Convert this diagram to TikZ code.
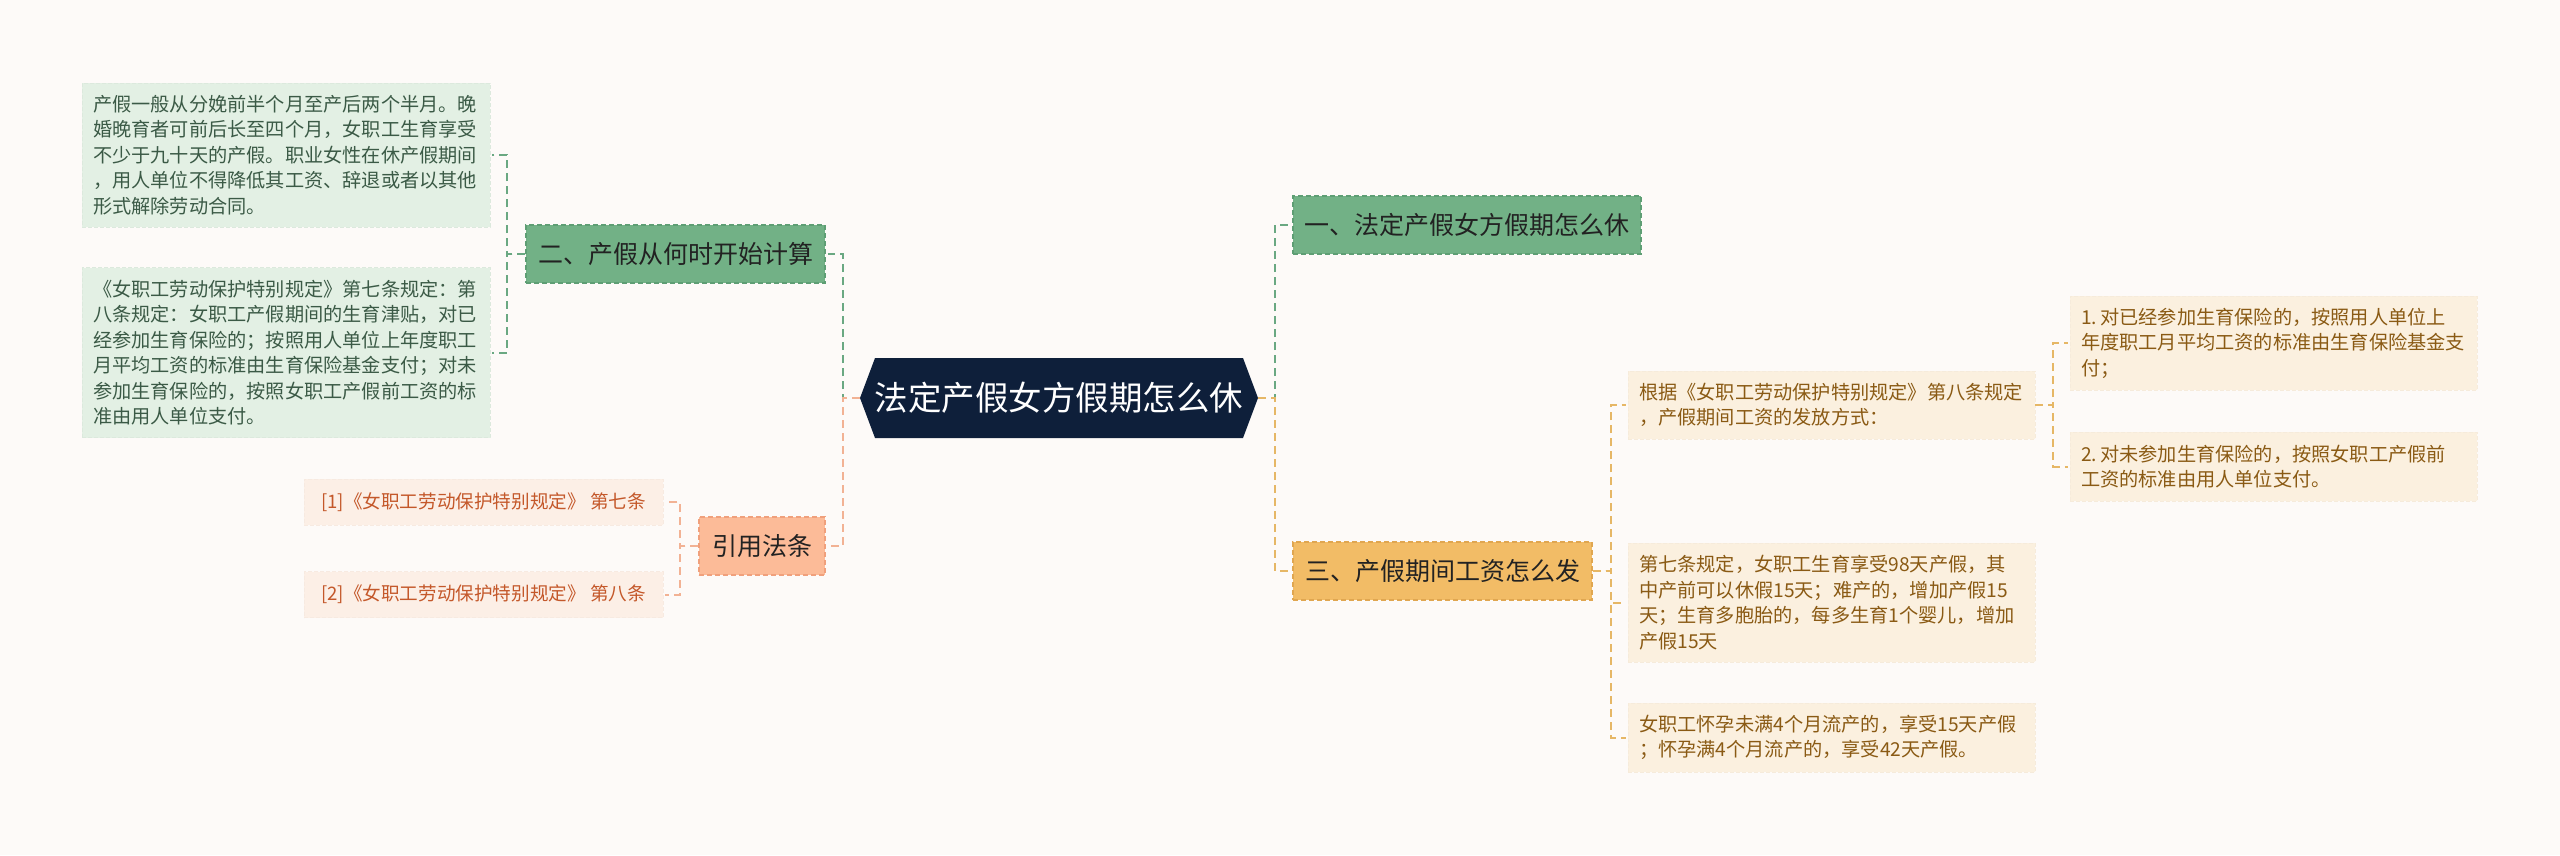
\documentclass[tikz,border=0pt]{standalone}
\usepackage{fontspec}
\setmainfont{Noto Sans CJK SC}
\definecolor{bg}{HTML}{FDFAF8}
\definecolor{navy}{HTML}{0E1F3A}
\definecolor{gfill}{HTML}{72B186}
\definecolor{gline}{HTML}{5E9E74}
\definecolor{gconnc}{HTML}{6AA882}
\definecolor{gleaffill}{HTML}{E3F0E4}
\definecolor{gleaftext}{HTML}{3B5A46}
\definecolor{yfill}{HTML}{F2BC66}
\definecolor{yline}{HTML}{E0A650}
\definecolor{yconnc}{HTML}{E6B766}
\definecolor{yleaffill}{HTML}{FBF0DF}
\definecolor{yleaftext}{HTML}{8A5A14}
\definecolor{sfill}{HTML}{FCBB98}
\definecolor{sline}{HTML}{F0A07C}
\definecolor{sconnc}{HTML}{F2B294}
\definecolor{sleaffill}{HTML}{FCEFE6}
\definecolor{sleaftext}{HTML}{C4582A}
\definecolor{darktext}{HTML}{222222}
\tikzset{
  lvlone/.style={dash pattern=on 5pt off 3pt, line width=1.2pt, text=darktext,
    font=\fontsize{25}{30}\selectfont, inner sep=0pt, minimum height=58pt},
  gnode/.style={lvlone, fill=gfill, draw=gline},
  ynode/.style={lvlone, fill=yfill, draw=yline},
  snode/.style={lvlone, fill=sfill, draw=sline},
  leaf/.style={inner xsep=11pt, inner ysep=0pt, align=left,
    font=\fontsize{19.2}{25.5}\selectfont, dash pattern=on 4pt off 2pt, line width=0.8pt},
  gleaf/.style={leaf, fill=gleaffill, draw=gleaffill!97!black, text=gleaftext},
  yleaf/.style={leaf, fill=yleaffill, draw=yleaffill!98!black, text=yleaftext},
  sleaf/.style={leaf, fill=sleaffill, draw=sleaffill!98!black, text=sleaftext},
  conn/.style={line width=2pt, dash pattern=on 8pt off 5pt, shorten >=2pt},
  gconn/.style={conn, draw=gconnc},
  yconn/.style={conn, draw=yconnc},
  sconn/.style={conn, draw=sconnc},
}
\begin{document}
\begin{tikzpicture}[x=1pt,y=-1pt]
\useasboundingbox (0,0) rectangle (2560,855);
\fill[bg] (0,0) rectangle (2560,855);

% central node
\node[minimum width=398pt, minimum height=80pt, inner sep=0pt, text=white,
  font=\fontsize{33.5}{38}\selectfont,
  path picture={\fill[navy] (path picture bounding box.west)
     -- ([xshift=15pt]path picture bounding box.north west)
     -- ([xshift=-15pt]path picture bounding box.north east)
     -- (path picture bounding box.east)
     -- ([xshift=-15pt]path picture bounding box.south east)
     -- ([xshift=15pt]path picture bounding box.south west) -- cycle;}]
  (ctr) at (1059,398) {法定产假女方假期怎么休};

% level one
\node[gnode, minimum width=348pt] (n1) at (1467,225) {一、法定产假女方假期怎么休};
\node[gnode, minimum width=299pt] (n2) at (675.5,254) {二、产假从何时开始计算};
\node[ynode, minimum width=299pt] (n3) at (1442.5,571) {三、产假期间工资怎么发};
\node[snode, minimum width=126pt] (nr) at (762,546) {引用法条};

% left leaves (green)
\node[gleaf, minimum width=408pt, minimum height=144pt, text width=386pt] (a) at (286,155)
 {产假一般从分娩前半个月至产后两个半月。晚\\婚晚育者可前后长至四个月，女职工生育享受\\不少于九十天的产假。职业女性在休产假期间\\，用人单位不得降低其工资、辞退或者以其他\\形式解除劳动合同。};
\node[gleaf, minimum width=408pt, minimum height=170pt, text width=386pt] (b) at (286,352.5)
 {《女职工劳动保护特别规定》第七条规定：第\\八条规定：女职工产假期间的生育津贴，对已\\经参加生育保险的；按照用人单位上年度职工\\月平均工资的标准由生育保险基金支付；对未\\参加生育保险的，按照女职工产假前工资的标\\准由用人单位支付。};

% reference leaves (salmon)
\node[sleaf, minimum width=359pt, minimum height=46pt, font=\fontsize{18.6}{24}\selectfont] (r1) at (483.5,502)
 {[1]《女职工劳动保护特别规定》 第七条};
\node[sleaf, minimum width=359pt, minimum height=46pt, font=\fontsize{18.6}{24}\selectfont] (r2) at (483.5,594.5)
 {[2]《女职工劳动保护特别规定》 第八条};

% right leaves (yellow)
\node[yleaf, minimum width=407pt, minimum height=68pt, text width=385pt] (c1) at (1831.5,405)
 {根据《女职工劳动保护特别规定》第八条规定\\，产假期间工资的发放方式：};
\node[yleaf, minimum width=407pt, minimum height=119pt, text width=385pt] (c2) at (1831.5,602.5)
 {第七条规定，女职工生育享受98天产假，其\\中产前可以休假15天；难产的，增加产假15\\天；生育多胞胎的，每多生育1个婴儿，增加\\产假15天};
\node[yleaf, minimum width=407pt, minimum height=69pt, text width=385pt] (c3) at (1831.5,737.5)
 {女职工怀孕未满4个月流产的，享受15天产假\\；怀孕满4个月流产的，享受42天产假。};
\node[yleaf, minimum width=407pt, minimum height=94pt, text width=385pt] (d1) at (2273.5,343)
 {1.\,对已经参加生育保险的，按照用人单位上\\年度职工月平均工资的标准由生育保险基金支\\付；};
\node[yleaf, minimum width=407pt, minimum height=69pt, text width=385pt] (d2) at (2273.5,466.5)
 {2.\,对未参加生育保险的，按照女职工产假前\\工资的标准由用人单位支付。};

% connectors
\draw[gconn] (ctr.east) -- ++(17,0) |- (n1.west);
\draw[gconn] (ctr.west) -- ++(-17,0) |- (n2.east);
\draw[yconn] (ctr.east) -- ++(17,0) |- (n3.west);
\draw[sconn] (ctr.west) -- ++(-17,0) |- (nr.east);

\draw[gconn] (n2.west) -- ++(-18,0) |- (a.east);
\draw[gconn] (n2.west) -- ++(-18,0) |- (b.east);

\draw[sconn] (nr.west) -- ++(-18,0) |- (r1.east);
\draw[sconn] (nr.west) -- ++(-18,0) |- (r2.east);

\draw[yconn] (n3.east) -- ++(18,0) |- (c1.west);
\draw[yconn] (n3.east) -- ++(18,0) |- (c2.west);
\draw[yconn] (n3.east) -- ++(18,0) |- (c3.west);

\draw[yconn] (c1.east) -- ++(18,0) |- (d1.west);
\draw[yconn] (c1.east) -- ++(18,0) |- (d2.west);
\end{tikzpicture}
\end{document}
